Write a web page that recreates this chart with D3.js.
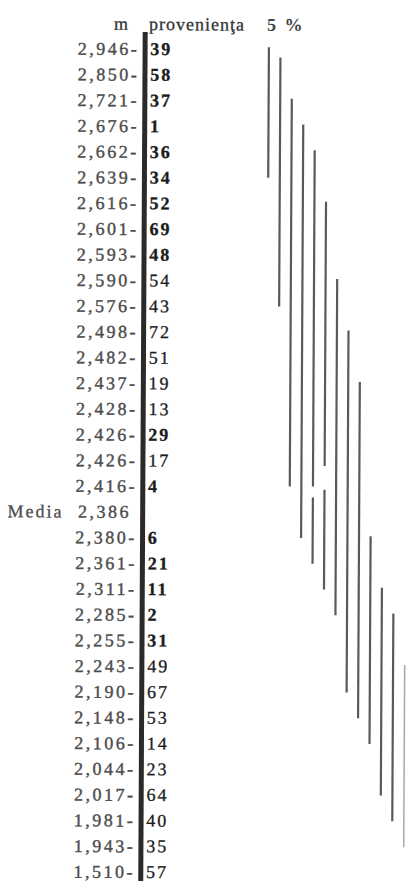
<!DOCTYPE html>
<html>
<head>
<meta charset="utf-8">
<script src="https://cdn.jsdelivr.net/npm/d3@7"></script>
<style>
  html, body { margin: 0; padding: 0; background: #ffffff; }
  svg { display: block; }
  text { font-family: "Liberation Serif", "Times New Roman", serif; }
</style>
</head>
<body>
<script>
// Provenance means (m), sorted from highest to lowest
const means = [2.946, 2.850, 2.721, 2.676, 2.662, 2.639, 2.616, 2.601, 2.593, 2.590,
               2.576, 2.498, 2.482, 2.437, 2.428, 2.426, 2.426, 2.416, 2.380, 2.361,
               2.311, 2.285, 2.255, 2.243, 2.190, 2.148, 2.106, 2.044, 2.017, 1.981,
               1.943, 1.510];
// Provenance number belonging to each mean
const provenances = [39, 58, 37, 1, 36, 34, 52, 69, 48, 54,
                     43, 72, 51, 19, 13, 29, 17, 4, 6, 21,
                     11, 2, 31, 49, 67, 53, 14, 23, 64, 40,
                     35, 57];
// Provenances printed in bold type
const boldProvenances = [39, 58, 37, 1, 36, 34, 52, 69, 48, 29, 4, 6, 21, 11, 2, 31];
// Overall mean
const overallMean = 2.386;
const overallLabel = "Media";
// Column headers
const headers = { value: "m", provenance: "provenienţa", level: "5 %" };
// Groups not significantly different at 5 %: column and first/last row they span
const rangeLines = [
  { col: 0,  from: 0,    to: 5 },
  { col: 1,  from: 0.4,  to: 10 },
  { col: 2,  from: 2,    to: 17 },
  { col: 3,  from: 3,    to: 19 },
  { col: 4,  from: 4,    to: 17 },
  { col: 4,  from: 17.5, to: 20 },
  { col: 5,  from: 6,    to: 16.2 },
  { col: 5,  from: 17.2, to: 21 },
  { col: 6,  from: 9,    to: 22 },
  { col: 7,  from: 11,   to: 25 },
  { col: 8,  from: 13,   to: 26 },
  { col: 9,  from: 19,   to: 27 },
  { col: 10, from: 21,   to: 29 },
  { col: 11, from: 22,   to: 30 },
  { col: 12, from: 24,   to: 31 }
];

// Table rows: every provenance, with the overall mean inserted at its rank
const rows = means.map((m, i) => ({ value: m, prov: provenances[i], isMean: false }));
const meanIndex = rows.findIndex(r => r.value < overallMean);
rows.splice(meanIndex, 0, { value: overallMean, prov: null, isMean: true });

const locale = d3.formatLocale({ decimal: ",", thousands: ".", grouping: [3], currency: ["", ""] });
const fmt = locale.format(".3f");

const W = 406, H = 881;
const svg = d3.select("body").append("svg").attr("width", W).attr("height", H);
svg.append("rect").attr("width", W).attr("height", H).attr("fill", "#ffffff");

// The printed page sits very slightly skewed
const g = svg.append("g").attr("transform", "rotate(0.3,145,30)");

const yBase = d3.scaleLinear().domain([0, rows.length - 1]).range([55, 878]);
const yMid = r => yBase(r) - 6.5;
const maxCol = d3.max(rangeLines, d => d.col);
const xCol = d3.scaleLinear().domain([0, maxCol]).range([269, 408]);

// Header
g.append("text").attr("x", 129.5).attr("y", 30).attr("text-anchor", "end")
  .attr("font-size", 18).attr("letter-spacing", 1.5).attr("fill", "#333")
  .attr("stroke", "#333").attr("stroke-width", 0.3)
  .text(headers.value);
g.append("text").attr("x", 149).attr("y", 30)
  .attr("font-size", 18).attr("letter-spacing", 1).attr("fill", "#333")
  .attr("stroke", "#333").attr("stroke-width", 0.3)
  .text(headers.provenance);
g.append("text").attr("x", 267).attr("y", 30)
  .attr("font-size", 18).attr("font-weight", "bold").attr("letter-spacing", 2).attr("fill", "#444")
  .text(headers.level);

// Thick divider between means and provenance numbers
g.append("rect").attr("x", 142.7).attr("y", 32).attr("width", 5).attr("height", H)
  .attr("fill", "#2a2a2a");

// Mean values
g.selectAll("text.val").data(rows).join("text")
  .attr("class", "val")
  .attr("x", d => d.isMean ? 133.5 : 139.5)
  .attr("y", (d, i) => yBase(i))
  .attr("text-anchor", "end")
  .attr("font-size", 18).attr("letter-spacing", 2.5).attr("fill", "#4d4d4d")
  .attr("stroke", "#4d4d4d").attr("stroke-width", 0.4)
  .text(d => d.isMean ? fmt(d.value) : fmt(d.value) + "-");

// Overall mean label
g.selectAll("text.meanlab").data(rows.filter(r => r.isMean)).join("text")
  .attr("class", "meanlab")
  .attr("x", 10)
  .attr("y", d => yBase(rows.indexOf(d)))
  .attr("font-size", 18).attr("letter-spacing", 2).attr("fill", "#4d4d4d")
  .attr("stroke", "#4d4d4d").attr("stroke-width", 0.3)
  .text(overallLabel);

// Provenance numbers
g.selectAll("text.prov").data(rows.filter(r => !r.isMean)).join("text")
  .attr("class", "prov")
  .attr("x", 150.5)
  .attr("y", d => yBase(rows.indexOf(d)))
  .attr("font-size", 18).attr("letter-spacing", 2)
  .attr("font-weight", d => boldProvenances.includes(d.prov) ? "bold" : "normal")
  .attr("fill", "#1c1c1c")
  .attr("stroke", "#1c1c1c").attr("stroke-width", 0.3)
  .text(d => d.prov);

// Significance range lines
g.selectAll("line.range").data(rangeLines).join("line")
  .attr("class", "range")
  .attr("x1", d => xCol(d.col)).attr("x2", d => xCol(d.col))
  .attr("y1", d => yMid(d.from) - 2).attr("y2", d => yMid(d.to))
  .attr("stroke", d => d.col === maxCol ? "#a8a8a8" : "#595959")
  .attr("stroke-width", d => d.col === maxCol ? 1.5 : 2.2);
</script>
</body>
</html>
